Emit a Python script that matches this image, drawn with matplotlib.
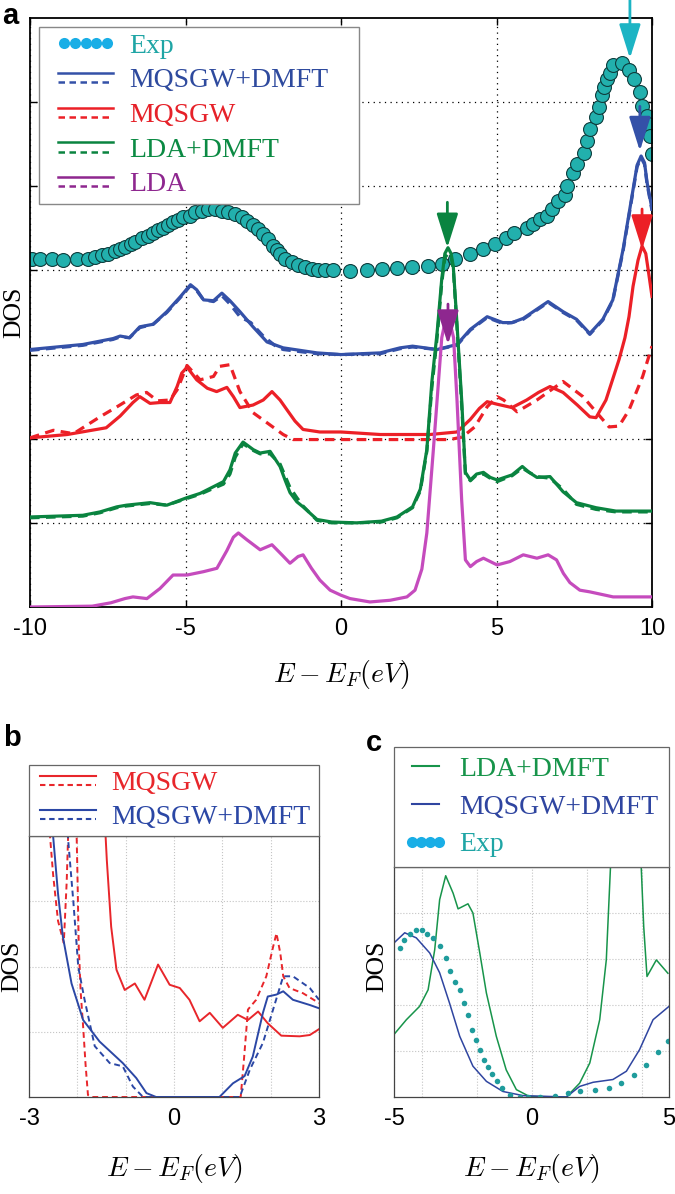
import matplotlib
matplotlib.use("Agg")
import numpy as np
import matplotlib.pyplot as plt
from matplotlib.lines import Line2D
from matplotlib.legend_handler import HandlerBase

plt.rcParams['mathtext.fontset'] = 'cm'
plt.rcParams['font.family'] = ['Liberation Sans', 'DejaVu Sans']

# ---------------- panel a data (curves without vertical offset) ----------------
exp_x = [-9.95, -9.68, -9.3, -8.93, -8.5, -8.12, -7.91, -7.7, -7.48, -7.27, -7.11, -6.95, -6.75, -6.62,
         -6.41, -6.2, -6.04, -5.87, -5.71, -5.55, -5.39, -5.23, -5.07, -4.86, -4.69, -4.48, -4.27, -4.05,
         -3.84, -3.62, -3.41, -3.19, -3.03, -2.82, -2.66, -2.5, -2.34, -2.18, -2.07, -1.96, -1.8, -1.59,
         -1.37, -1.16, -0.94, -0.73, -0.51, -0.25, 0.29, 0.83, 1.31, 1.79, 2.27, 2.81, 3.24, 3.67, 4.15,
         4.56, 4.95, 5.31, 5.56, 5.97, 6.18, 6.4, 6.61, 6.77, 6.99, 7.2, 7.28, 7.45, 7.58, 7.81, 7.9,
         8.01, 8.19, 8.29, 8.38, 8.46, 8.54, 8.65, 8.76, 9.05, 9.27, 9.42, 9.61, 9.69, 9.83, 9.88, 9.94, 9.99]
exp_y = [0.14, 0.14, 0.13, 0.12, 0.13, 0.14, 0.16, 0.18, 0.2, 0.23, 0.26, 0.28, 0.31, 0.34,
         0.38, 0.41, 0.45, 0.48, 0.51, 0.54, 0.57, 0.6, 0.63, 0.65, 0.69, 0.71, 0.73, 0.73,
         0.71, 0.69, 0.67, 0.63, 0.59, 0.54, 0.49, 0.43, 0.37, 0.29, 0.24, 0.19, 0.14, 0.1,
         0.07, 0.04, 0.02, 0.01, 0.0, 0.0, -0.01, 0.0, 0.02, 0.03, 0.04, 0.05, 0.08, 0.13, 0.19,
         0.26, 0.32, 0.39, 0.45, 0.51, 0.55, 0.61, 0.65, 0.73, 0.83, 0.9, 1.0, 1.16, 1.26, 1.4, 1.54,
         1.68, 1.82, 1.94, 2.08, 2.18, 2.27, 2.35, 2.44, 2.47, 2.38, 2.27, 2.12, 1.96, 1.84, 1.74, 1.6, 1.38]

# MQSGW+DMFT
qd_x = [-10, -8.3, -7.33, -7.1, -6.8, -6.47, -6.04, -5.6, -5.16, -4.84, -4.64, -4.42, -4.1, -3.83,
        -3.57, -3.25, -2.83, -2.38, -1.86, -0.77, 0, 1.26, 1.9, 2.3, 3.09, 3.73, 4.16, 4.7, 5.2, 5.5,
        5.86, 6.66, 7.14, 7.57, 8.0, 8.42, 8.74, 9.07, 9.39, 9.52, 9.65, 9.76, 9.84, 10]
qd_y = [0.06, 0.12, 0.19, 0.22, 0.2, 0.33, 0.36, 0.51, 0.69, 0.83, 0.77, 0.65, 0.64, 0.73,
        0.64, 0.51, 0.33, 0.15, 0.08, 0.02, 0.0, 0.02, 0.08, 0.1, 0.06, 0.12, 0.3, 0.45, 0.38, 0.38,
        0.43, 0.63, 0.51, 0.42, 0.25, 0.42, 0.65, 1.25, 1.96, 2.25, 2.36, 2.28, 2.05, 1.73]
qd_dash_x = [-10, -8.3, -7.33, -7.1, -6.8, -6.47, -6.04, -5.6, -5.16, -4.84, -4.64, -4.42, -4.1, -3.83,
             -3.57, -3.25, -2.9, -2.5, -2.1, -1.86, -0.77, 0, 1.26, 1.9, 2.3, 3.09, 3.73, 4.16, 4.7,
             5.2, 5.5, 5.86, 6.66, 7.14, 7.57, 8.0, 8.42, 8.74, 9.07, 9.39, 9.52, 9.65, 9.76, 9.84, 10]
qd_dash_y = [0.05, 0.11, 0.18, 0.21, 0.2, 0.32, 0.36, 0.5, 0.68, 0.82, 0.76, 0.65, 0.63, 0.7,
             0.6, 0.45, 0.38, 0.22, 0.1, 0.06, 0.01, 0.0, 0.01, 0.07, 0.09, 0.06, 0.11, 0.29, 0.44,
             0.37, 0.38, 0.42, 0.62, 0.5, 0.41, 0.24, 0.41, 0.64, 1.23, 1.94, 2.23, 2.34, 2.26, 2.03, 1.71]

# MQSGW
q_x = [-10, -8.8, -7.55, -7.1, -6.69, -6.47, -6.14, -5.82, -5.5, -5.27, -5.12, -4.95, -4.64, -4.3,
       -4.0, -3.67, -3.46, -3.25, -2.83, -2.5, -2.22, -1.96, -1.75, -1.48, -1.22, -0.68, 0, 1.26,
       2.86, 3.73, 4.16, 4.45, 4.7, 5.02, 5.5, 5.97, 6.35, 6.72, 7.14, 7.6, 8.0, 8.2, 8.52, 8.94,
       9.13, 9.26, 9.39, 9.55, 9.68, 9.8, 9.9, 10]
q_y = [0.01, 0.05, 0.13, 0.27, 0.43, 0.5, 0.42, 0.43, 0.43, 0.62, 0.78, 0.85, 0.7, 0.6,
       0.56, 0.61, 0.5, 0.37, 0.4, 0.46, 0.56, 0.46, 0.35, 0.21, 0.11, 0.08, 0.08, 0.05,
       0.05, 0.08, 0.23, 0.36, 0.44, 0.41, 0.37, 0.46, 0.55, 0.62, 0.55, 0.4, 0.26, 0.25, 0.46, 0.94,
       1.2, 1.45, 1.81, 2.12, 2.29, 2.2, 1.95, 1.69]
q_dash_x = [-10, -9.25, -8.6, -7.75, -7.2, -6.58, -6.25, -5.9, -5.5, -5.27, -4.95, -4.53, -4.1, -3.9,
            -3.57, -3.25, -2.83, -2.38, -1.86, -1.54, 0, 3.5, 3.9, 4.3, 4.7, 5.02, 5.23, 5.66, 6.3,
            7.14, 7.78, 8.2, 8.62, 8.94, 9.26, 9.7, 10]
q_dash_y = [0.01, 0.1, 0.06, 0.26, 0.38, 0.52, 0.55, 0.45, 0.46, 0.58, 0.87, 0.7, 0.74, 0.86,
            0.88, 0.56, 0.31, 0.19, 0.05, -0.01, -0.01, -0.01, 0.02, 0.14, 0.38, 0.5, 0.46, 0.32, 0.46,
            0.68, 0.5, 0.32, 0.14, 0.15, 0.34, 0.74, 1.1]

# LDA+DMFT
ld_x = [-10, -8.3, -7.75, -7.21, -6.9, -6.14, -5.6, -4.95, -4.53, -4.1, -3.78, -3.57, -3.4, -3.15,
        -2.82, -2.6, -2.28, -1.96, -1.8, -1.64, -1.42, -1.22, -0.77, -0.3, 0.5, 1.3, 1.8, 2.3, 2.55,
        2.76, 2.92, 3.09, 3.24, 3.34, 3.44, 3.54, 3.61, 3.72, 3.88, 4.0, 4.16, 4.36, 4.58, 4.8, 5.02,
        5.5, 5.83, 6.05, 6.3, 6.72, 7.14, 7.57, 8.2, 8.84, 10]
ld_y = [0.07, 0.09, 0.13, 0.19, 0.21, 0.24, 0.21, 0.3, 0.35, 0.43, 0.49, 0.63, 0.83, 0.96,
        0.87, 0.83, 0.85, 0.67, 0.51, 0.36, 0.25, 0.19, 0.04, 0.01, 0.0, 0.02, 0.07, 0.19, 0.4,
        0.87, 1.67, 2.26, 2.9, 3.2, 3.27, 3.2, 3.05, 2.42, 1.46, 0.6, 0.51, 0.58, 0.6, 0.54, 0.51,
        0.57, 0.67, 0.6, 0.54, 0.55, 0.37, 0.24, 0.18, 0.14, 0.14]
ld_dash_x = ld_x
ld_dash_y = [0.06, 0.08, 0.12, 0.18, 0.2, 0.23, 0.21, 0.29, 0.34, 0.41, 0.46, 0.58, 0.78, 0.94,
             0.86, 0.82, 0.82, 0.7, 0.56, 0.42, 0.3, 0.2, 0.03, 0.0, 0.0, 0.01, 0.06, 0.18, 0.38,
             0.85, 1.6, 2.2, 2.85, 3.15, 3.2, 3.16, 3.02, 2.38, 1.4, 0.58, 0.5, 0.57, 0.58, 0.53, 0.49,
             0.56, 0.65, 0.6, 0.55, 0.53, 0.4, 0.22, 0.16, 0.13, 0.13]

# LDA
lda_x = [-10, -8.0, -7.4, -6.95, -6.69, -6.24, -5.82, -5.4, -4.95, -4.42, -3.99, -3.67, -3.46, -3.3,
         -3.03, -2.6, -2.22, -1.9, -1.64, -1.38, -1.22, -0.95, -0.68, -0.35, 0, 0.29, 0.93, 1.58,
         2.12, 2.38, 2.6, 2.76, 2.97, 3.09, 3.24, 3.33, 3.42, 3.52, 3.62, 3.73, 3.88, 4.0, 4.16, 4.36,
         4.58, 4.8, 5.02, 5.43, 5.86, 6.3, 6.66, 6.93, 7.15, 7.36, 7.68, 8.0, 8.75, 10]
lda_y = [0.0, 0.01, 0.05, 0.1, 0.12, 0.1, 0.22, 0.38, 0.38, 0.42, 0.46, 0.67, 0.83, 0.88,
         0.8, 0.68, 0.74, 0.62, 0.52, 0.6, 0.62, 0.46, 0.32, 0.2, 0.14, 0.1, 0.06, 0.08,
         0.12, 0.2, 0.45, 0.88, 1.87, 2.46, 3.2, 3.36, 3.4, 3.36, 3.2, 2.46, 1.27, 0.56, 0.48, 0.54,
         0.58, 0.54, 0.5, 0.54, 0.62, 0.58, 0.62, 0.56, 0.4, 0.29, 0.2, 0.18, 0.12, 0.12]

# arrows marking the peaks: x, tail, tip (plotted units)
arrow_x = [9.29, 9.61, 9.68, 3.42, 3.44]
arrow_tail = [7.25, 5.95, 4.73, 4.81, 3.6]
arrow_tip = [6.52, 5.42, 4.25, 4.27, 3.12]

# ---------------- panel b data ----------------
b_q_x = [-1.45, -1.39, -1.3, -1.19, -1.02, -0.81, -0.61, -0.33, -0.09, 0.12, 0.32, 0.53, 0.74,
         1.01, 1.32, 1.53, 1.74, 1.94, 2.22, 2.6, 2.81, 3.0]
b_q_y = [4.5, 3.63, 2.61, 1.95, 1.64, 1.74, 1.49, 2.03, 1.72, 1.67, 1.49, 1.16, 1.29,
         1.06, 1.26, 1.18, 1.31, 1.13, 0.94, 0.93, 0.95, 1.04]
b_q_dash_x = [-2.62, -2.5, -2.4, -2.28, -2.22, -2.17, -2.05, -2.02, -2.0, -1.97, -1.93, -1.88, -1.83,
              -1.78, -1.7, 1.38, 1.45, 1.53, 1.7, 1.91, 2.05, 2.12, 2.2, 2.26, 2.39, 2.67, 3.0]
b_q_dash_y = [4.5, 3.4, 2.7, 2.36, 3.3, 4.5, 4.5, 4.2, 3.5, 2.3, 1.6, 1.08, 0.5,
              0.03, 0.0, 0.0, 0.6, 1.34, 1.49, 1.85, 2.3, 2.51, 2.2, 1.85, 1.67, 1.59, 1.44]
b_qd_x = [-2.56, -2.5, -2.4, -2.3, -2.12, -1.88, -1.54, -1.06, -0.78, -0.57, -0.37, 0.94, 1.22,
          1.46, 1.63, 1.84, 1.94, 2.12, 2.26, 2.46, 2.81, 3.0]
b_qd_y = [4.5, 3.99, 3.12, 2.46, 1.74, 1.18, 0.85, 0.52, 0.29, 0.06, 0.0, 0.0, 0.21,
          0.32, 0.62, 1.29, 1.54, 1.57, 1.62, 1.49, 1.41, 1.36]
b_qd_dash_x = [-2.24, -2.19, -2.08, -1.98, -1.85, -1.64, -1.33, -1.06, -0.85, -0.64, 1.36, 1.57,
               1.84, 2.05, 2.26, 2.46, 2.81, 3.0]
b_qd_dash_y = [4.5, 3.94, 2.97, 1.99, 1.49, 0.78, 0.52, 0.47, 0.16, 0.0, 0.0, 0.42,
               0.83, 1.34, 1.85, 1.85, 1.67, 1.49]

# ---------------- panel c data ----------------
c_ld_x = [-5, -4.55, -4.07, -3.76, -3.52, -3.34, -3.12, -2.85, -2.67, -2.31, -2.13, -1.88, -1.64,
          -1.28, -0.92, -0.55, -0.07, 1.27, 1.75, 2.12, 2.48, 2.72, 2.87, 3.0, 3.45, 3.9, 3.99, 4.08,
          4.2, 4.54, 4.96]
c_ld_y = [1.36, 1.68, 1.97, 2.33, 3.2, 4.29, 4.81, 4.43, 4.09, 4.2, 4.0, 3.13, 2.26,
          1.32, 0.59, 0.16, 0.01, 0.0, 0.3, 0.74, 1.68, 2.98, 4.97, 6.0, 8.0, 6.0, 5.0, 3.71,
          2.62, 2.98, 2.69]
c_qd_x = [-5, -4.61, -4.19, -3.7, -3.34, -2.98, -2.61, -2.13, -1.64, -1.04, -0.31, 1.27, 1.75,
          2.24, 2.96, 3.45, 3.93, 4.42, 5.0]
c_qd_y = [3.35, 3.57, 3.46, 3.13, 2.7, 2.04, 1.32, 0.67, 0.34, 0.12, 0.03, 0.0, 0.23,
          0.32, 0.38, 0.56, 1.03, 1.68, 1.97]
c_exp_x = [-4.79, -4.65, -4.41, -4.19, -3.99, -3.79, -3.58, -3.34, -3.1, -2.95, -2.78, -2.61, -2.45,
           -2.31, -2.18, -2.03, -1.88, -1.74, -1.58, -1.42, -1.25, -1.06, -0.79, -0.43, -0.13, 0.3,
           0.84, 1.33, 1.78, 2.3, 2.82, 3.27, 3.72, 4.18, 4.6, 4.96]
c_exp_y = [3.24, 3.42, 3.55, 3.62, 3.62, 3.55, 3.46, 3.29, 3.02, 2.73, 2.51, 2.33, 2.04,
           1.79, 1.46, 1.25, 1.03, 0.81, 0.65, 0.49, 0.34, 0.2, 0.05, 0.0, 0.0, 0.0,
           0.03, 0.09, 0.12, 0.16, 0.2, 0.3, 0.47, 0.7, 0.97, 1.21]

BLUE, RED, GREEN, MAG = '#3451a8', '#ec2027', '#0a8440', '#c54bbd'
TEAL = '#22b0ad'
SERIF = ['Liberation Serif', 'DejaVu Serif']


class LinePair:
    def __init__(self, color, lw):
        self.color = color
        self.lw = lw


class PairHandler(HandlerBase):
    # solid line on top, dashed line below, like the original legend
    def __init__(self, pad=0.0):
        super().__init__()
        self.pad = pad

    def create_artists(self, legend, orig_handle, xdescent, ydescent, width, height, fontsize, trans):
        x0, x1 = -xdescent + self.pad, -xdescent + width
        yc = -ydescent + height / 2
        top = Line2D([x0, x1], [yc + 3.4] * 2, color=orig_handle.color, lw=orig_handle.lw)
        bot = Line2D([x0, x1], [yc - 3.4] * 2, color=orig_handle.color, lw=orig_handle.lw,
                     ls=(0, (2.6, 1.8)))
        top.set_transform(trans)
        bot.set_transform(trans)
        return [top, bot]


class DotsHandler(HandlerBase):
    def __init__(self, n, pad=0.0, ms=8):
        super().__init__()
        self.n, self.pad, self.ms = n, pad, ms

    def create_artists(self, legend, orig_handle, xdescent, ydescent, width, height, fontsize, trans):
        r = self.ms / 2
        xs = np.linspace(-xdescent + self.pad + r, -xdescent + width - r, self.n)
        yc = -ydescent + height / 2
        d = Line2D(xs, [yc] * self.n, ls='none', marker='o', ms=self.ms,
                   mfc=orig_handle.get_markerfacecolor(), mec='none')
        d.set_transform(trans)
        return [d]


fig = plt.figure(figsize=(6.75, 11.94), dpi=100)
W, H = 675, 1194
ax = fig.add_axes([30 / W, 1 - 607 / H, 622 / W, 589 / H])
axb = fig.add_axes([29 / W, 1 - 1097 / H, 290 / W, 261 / H])
axc = fig.add_axes([394 / W, 1 - 1097 / H, 275 / W, 230 / H])

# ---------------- panel a ----------------
lw = 2.3
dash = (0, (3, 2))
ax.plot(exp_x, [v + 4 for v in exp_y], 'o', ms=10, mfc=TEAL, mec='#0e3d3d', mew=0.8, zorder=2)
ax.plot(qd_dash_x, [v + 3 for v in qd_dash_y], color=BLUE, lw=lw, ls=dash, zorder=3)
ax.plot(qd_x, [v + 3 for v in qd_y], color=BLUE, lw=lw, zorder=3)
ax.plot(q_dash_x, [v + 2 for v in q_dash_y], color=RED, lw=lw, ls=dash, zorder=3)
ax.plot(q_x, [v + 2 for v in q_y], color=RED, lw=lw, zorder=3)
ax.plot(ld_dash_x, [v + 1 for v in ld_dash_y], color=GREEN, lw=lw, ls=dash, zorder=4)
ax.plot(ld_x, [v + 1 for v in ld_y], color=GREEN, lw=lw, zorder=4)
ax.plot(lda_x, lda_y, color=MAG, lw=lw, zorder=5)

arrow_cols = ['#1cb4c4', BLUE, RED, GREEN, '#8e278f']
for xa, yt, yh, c in zip(arrow_x, arrow_tail, arrow_tip, arrow_cols):
    ax.annotate('', xy=(xa, yh), xytext=(xa, yt), annotation_clip=False, zorder=6,
                arrowprops=dict(arrowstyle='-|>,head_length=0.7,head_width=0.22', color=c,
                                lw=2, mutation_scale=30, shrinkA=0, shrinkB=0))

ax.set_xlim(-10, 10)
ax.set_ylim(0, 7)
ax.set_xticks([-10, -5, 0, 5, 10])
ax.set_xticklabels(['-10', '-5', '0', '5', '10'], fontsize=17)
ax.set_yticks([1, 2, 3, 4, 5, 6])
ax.set_yticklabels([])
ax.tick_params(direction='in', length=5, width=1, top=True, right=True, pad=8)
ax.grid(True, color='k', ls=(0, (1, 3.5)), lw=0.9)
for s in ax.spines.values():
    s.set_linewidth(1.3)
ax.set_xlabel(r'$E - E_F(eV)$', fontsize=20, labelpad=13)
ax.set_ylabel('DOS', fontsize=18.5, family=SERIF)
ax.yaxis.set_label_coords(-0.008, 0.5)

h_exp = Line2D([], [], ls='none', marker='o', ms=8, mfc='#19aee6', mec='none')
handles = [h_exp, LinePair(BLUE, 1.8), LinePair(RED, 1.8), LinePair(GREEN, 1.8), LinePair('#8e278f', 1.8)]
labels = ['Exp', 'MQSGW+DMFT', 'MQSGW', 'LDA+DMFT', 'LDA']
leg = ax.legend(handles, labels, handler_map={LinePair: PairHandler(9.4), Line2D: DotsHandler(5, 9.4, 8)},
                loc='upper left', mode='expand', bbox_to_anchor=(9 / 622, 0, 320 / 622, 1 - 9 / 589),
                borderaxespad=0, prop={'family': SERIF, 'size': 20}, handlelength=2.42,
                handletextpad=0.6, labelspacing=0.33, borderpad=0.23, fancybox=False,
                edgecolor='#888888', framealpha=1,
                labelcolor=['#1fa5a5', '#2e4a9e', '#e62129', '#0b8a43', '#8e278f'])
leg.get_frame().set_linewidth(1.0)
leg.set_zorder(10)

# ---------------- panel b ----------------
bred, bblue = '#e8262b', '#2b47a5'
axb.plot(b_q_dash_x, b_q_dash_y, color=bred, lw=1.4, ls=dash)
axb.plot(b_qd_dash_x, b_qd_dash_y, color=bblue, lw=1.4, ls=dash)
axb.plot(b_q_x, b_q_y, color=bred, lw=1.4)
axb.plot(b_qd_x, b_qd_y, color=bblue, lw=1.4)
axb.set_xlim(-3, 3)
axb.set_ylim(0, 4)
axb.set_xticks([-3, 0, 3])
axb.set_xticklabels(['-3', '0', '3'], fontsize=17)
axb.set_xticks([-2, -1, 1, 2], minor=True)
axb.set_yticks([1, 2, 3])
axb.set_yticklabels([])
axb.set_xlabel(r'$E - E_F(eV)$', fontsize=20, labelpad=16)
axb.set_ylabel('DOS', fontsize=18.5, family=SERIF)
axb.yaxis.set_label_coords(-0.021, 0.5)
legb = axb.legend([LinePair(bred, 1.5), LinePair(bblue, 1.5)], ['MQSGW', 'MQSGW+DMFT'],
                  handler_map={LinePair: PairHandler(3.6)}, loc='lower left',
                  bbox_to_anchor=(0, 1, 1, 0.2), mode='expand', borderaxespad=0,
                  prop={'family': SERIF, 'size': 20}, handlelength=2.2, handletextpad=0.55,
                  labelspacing=0.31, borderpad=0.21, fancybox=False, edgecolor='#666666',
                  framealpha=1, labelcolor=[bred, bblue])
legb.get_frame().set_linewidth(0.9)

# ---------------- panel c ----------------
cgreen, cblue, cteal = '#17944a', '#2f45a0', '#1f9c9c'
axc.plot(c_ld_x, c_ld_y, color=cgreen, lw=1.1)
axc.plot(c_qd_x, c_qd_y, color=cblue, lw=1.1)
axc.plot(c_exp_x, c_exp_y, 'o', ms=4, color=cteal, mec='none')
axc.set_xlim(-5, 5)
axc.set_ylim(0, 5)
axc.set_xticks([-5, 0, 5])
axc.set_xticklabels(['-5', '0', '5'], fontsize=17)
axc.set_xticks([-4, -2, 2, 4], minor=True)
axc.set_yticks([1, 2, 3, 4])
axc.set_yticklabels([])
axc.set_xlabel(r'$E - E_F(eV)$', fontsize=20, labelpad=16)
axc.set_ylabel('DOS', fontsize=18.5, family=SERIF)
axc.yaxis.set_label_coords(-0.022, 0.57)
h_c = [Line2D([], [], color=cgreen, lw=1.5), Line2D([], [], color=cblue, lw=1.5),
       Line2D([], [], ls='none', marker='o', ms=8, mfc='#19aee6', mec='none')]
legc = axc.legend(h_c, ['LDA+DMFT', 'MQSGW+DMFT', 'Exp'], loc='lower left',
                  bbox_to_anchor=(0, 1, 1, 0.2), mode='expand', borderaxespad=0, numpoints=4,
                  prop={'family': SERIF, 'size': 20}, handlelength=1.58, handletextpad=0.43,
                  labelspacing=0.44, borderpad=0.35, fancybox=False, edgecolor='#666666',
                  framealpha=1, labelcolor=[cgreen, cblue, '#1fa5a5'])
legc.get_frame().set_linewidth(0.9)

for a in (axb, axc):
    a.grid(True, which='both', color='#c4c4c4', ls=':', lw=0.8)
    a.tick_params(which='both', length=0, pad=8)
    for s in a.spines.values():
        s.set_linewidth(0.9)
        s.set_color('#444444')

# panel letters
fig.text(2 / W, 1 - 2 / H, 'a', fontsize=21, fontweight='bold', va='top')
fig.text(3 / W, 1 - 724 / H, 'b', fontsize=21, fontweight='bold', va='top')
fig.text(366 / W, 1 - 729 / H, 'c', fontsize=21, fontweight='bold', va='top')

fig.savefig('out.png', dpi=100)
